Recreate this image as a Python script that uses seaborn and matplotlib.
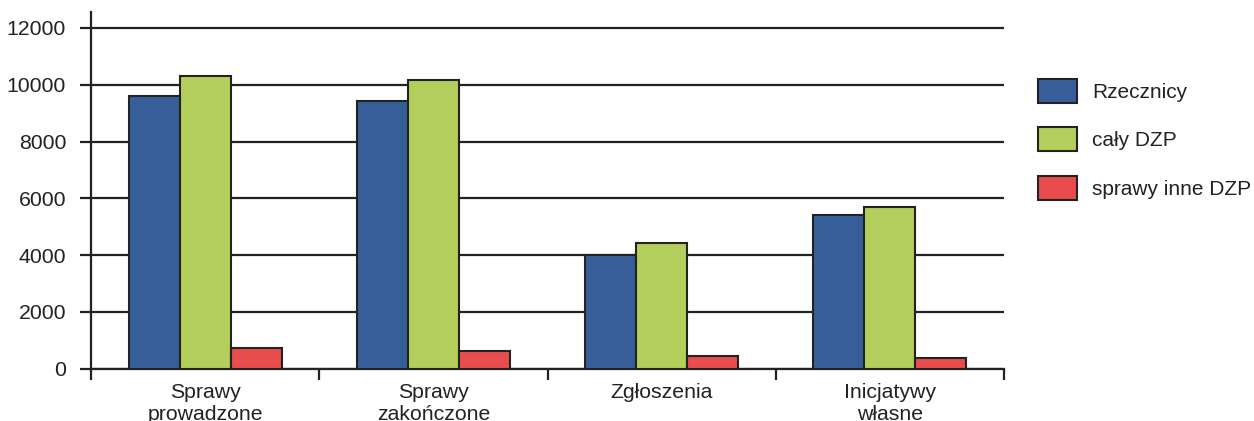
import matplotlib
matplotlib.use("Agg")
import matplotlib.pyplot as plt
import seaborn as sns
import pandas as pd
import numpy as np

categories = ["Sprawy\nprowadzone", "Sprawy\nzakończone", "Zgłoszenia", "Inicjatywy\nwłasne"]
series_names = ["Rzecznicy", "cały DZP", "sprawy inne DZP"]
rzecznicy = [9600, 9440, 4000, 5410]
caly_dzp = [10300, 10150, 4430, 5700]
inne_dzp = [720, 620, 450, 370]
y_ticks = [0, 2000, 4000, 6000, 8000, 10000, 12000]
colors = ["#365F9A", "#B3CE5B", "#E84C4C"]

rows = []
for name, vals in zip(series_names, [rzecznicy, caly_dzp, inne_dzp]):
    for c, v in zip(categories, vals):
        rows.append({"cat": c, "series": name, "value": v})
df = pd.DataFrame(rows)

sns.set_style("white")
plt.rcParams["font.family"] = ["Liberation Sans", "DejaVu Sans"]

fig = plt.figure(figsize=(12.54, 4.21), dpi=100)
ax = fig.add_axes([91/1254, 52.3/421, (1004-91)/1254, (368.7-12)/421])

sns.barplot(data=df, x="cat", y="value", hue="series", order=categories,
            hue_order=series_names, palette=colors, width=0.67,
            edgecolor="#222222", linewidth=1.5, saturation=1, ax=ax, zorder=3)

ax.set_xlim(-0.5, 3.5)
ax.set_ylim(0, 12560)
ax.set_yticks(y_ticks)
ax.set_yticklabels([str(t) for t in y_ticks], fontsize=15.3, color="#222222")
ax.set_xlabel("")
ax.set_ylabel("")

ax.yaxis.grid(True, color="#222222", linewidth=1.6, zorder=0)
ax.set_axisbelow(True)
ax.tick_params(axis="y", length=8, width=1.6, color="#222222", pad=10, left=True)

ax.set_xticks(range(len(categories)))
ax.set_xticklabels(categories, fontsize=15.3, color="#222222", linespacing=1.2)
ax.set_xticks(np.arange(-0.5, len(categories), 1.0), minor=True)
ax.tick_params(axis="x", which="major", length=0, pad=10)
ax.tick_params(axis="x", which="minor", length=8, width=1.6, color="#222222", bottom=True)

for s in ["top", "right"]:
    ax.spines[s].set_visible(False)
for s in ["left", "bottom"]:
    ax.spines[s].set_color("#222222")
    ax.spines[s].set_linewidth(1.6)

handles, labels = ax.get_legend_handles_labels()
if ax.legend_:
    ax.legend_.remove()
fig.legend(handles, labels, loc="upper left", bbox_to_anchor=(1038/1254, (421-79)/421),
           frameon=False, fontsize=15, handlelength=1.87, handleheight=1.395,
           labelspacing=1.17, handletextpad=0.72, borderpad=0, borderaxespad=0,
           labelcolor="#222222")

fig.savefig("out.png", dpi=100)
